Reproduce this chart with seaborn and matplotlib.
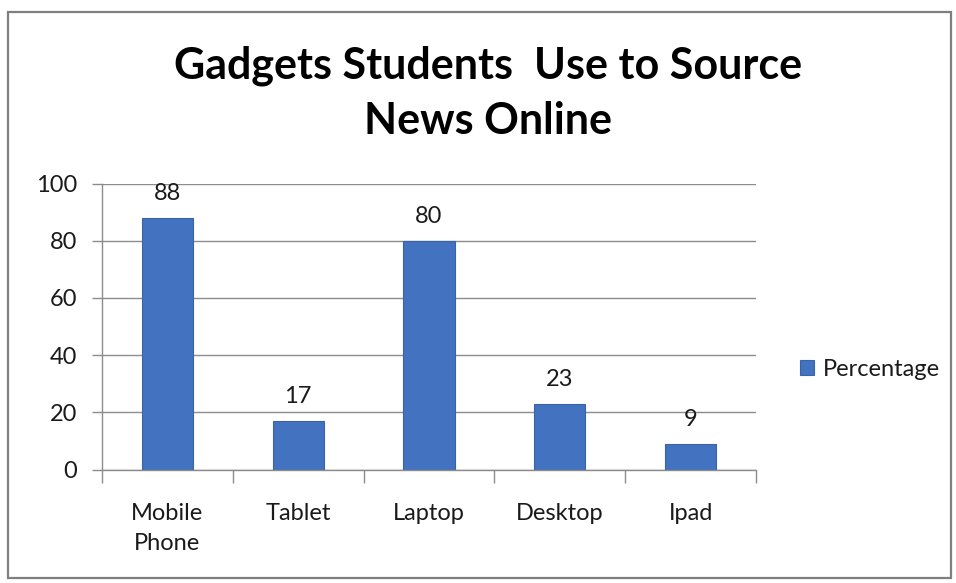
import matplotlib
matplotlib.use("Agg")
import matplotlib.pyplot as plt
import seaborn as sns
import pandas as pd
from matplotlib.patches import Rectangle

# Chart data
gadgets = ["Mobile\nPhone", "Tablet", "Laptop", "Desktop", "Ipad"]
percentage = [88, 17, 80, 23, 9]
y_ticks = [0, 20, 40, 60, 80, 100]
series_name = "Percentage"
title_text = "Gadgets Students  Use to Source\nNews Online"

df = pd.DataFrame({"Gadget": gadgets, "Value": percentage})

sns.set_theme(style="white")
plt.rcParams["font.family"] = ["Lato", "DejaVu Sans"]

bar_color = "#4272c0"
grid_color = "#8c8c8c"
text_color = "#1a1a1a"
label_size = 17

fig = plt.figure(figsize=(9.56, 5.83), dpi=100)
fig.patch.set_facecolor("white")

# outer chart frame
fig.patches.append(Rectangle((8 / 956, 5 / 583), 943 / 956, 566 / 583,
                             transform=fig.transFigure, fill=False,
                             edgecolor="#7f7f7f", linewidth=1.6))

ax = fig.add_axes([102 / 956, 1 - 469.5 / 583, 654 / 956, 286 / 583])
sns.barplot(data=df, x="Gadget", y="Value", ax=ax, color=bar_color,
            width=0.39, edgecolor="#3b63a6", linewidth=0.8,
            saturation=1, label=series_name)

ax.set_ylim(0, 100)
ax.set_yticks(y_ticks)
ax.set_xlim(-0.5, len(gadgets) - 0.5)
ax.yaxis.grid(True, color=grid_color, linewidth=1.0)
ax.set_axisbelow(True)
ax.set_xlabel("")
ax.set_ylabel("")

for side in ["top", "right"]:
    ax.spines[side].set_visible(False)
for side in ["left", "bottom"]:
    ax.spines[side].set_color(grid_color)
    ax.spines[side].set_linewidth(1.0)

# category separators below the axis
ax.set_xticks([i + 0.5 for i in range(-1, len(gadgets))], minor=True)
ax.tick_params(axis="x", which="minor", length=9, width=1.0, color=grid_color,
               direction="out", bottom=True)
ax.tick_params(axis="x", which="major", length=0, pad=24,
               labelsize=label_size, labelcolor=text_color)
ax.tick_params(axis="y", length=7, width=1.0, color=grid_color,
               direction="out", left=True, pad=11,
               labelsize=label_size, labelcolor=text_color)
for lbl in ax.get_xticklabels():
    lbl.set_linespacing(1.55)

# value labels above the bars
for i, v in enumerate(percentage):
    ax.annotate(str(v), (i, v), xytext=(0, 10), textcoords="offset points",
                ha="center", va="bottom", fontsize=label_size, color=text_color)

fig.text(488 / 956, 1 - 93 / 583, title_text, ha="center", va="center",
         fontsize=31, fontweight="bold", color="black", linespacing=1.45)

leg = ax.legend(loc="center left", bbox_to_anchor=(1.035, 0.35),
                frameon=False, fontsize=label_size, handlelength=0.6,
                handleheight=0.6, handletextpad=0.35)
for t in leg.get_texts():
    t.set_color(text_color)

fig.savefig("out.png", dpi=100)
